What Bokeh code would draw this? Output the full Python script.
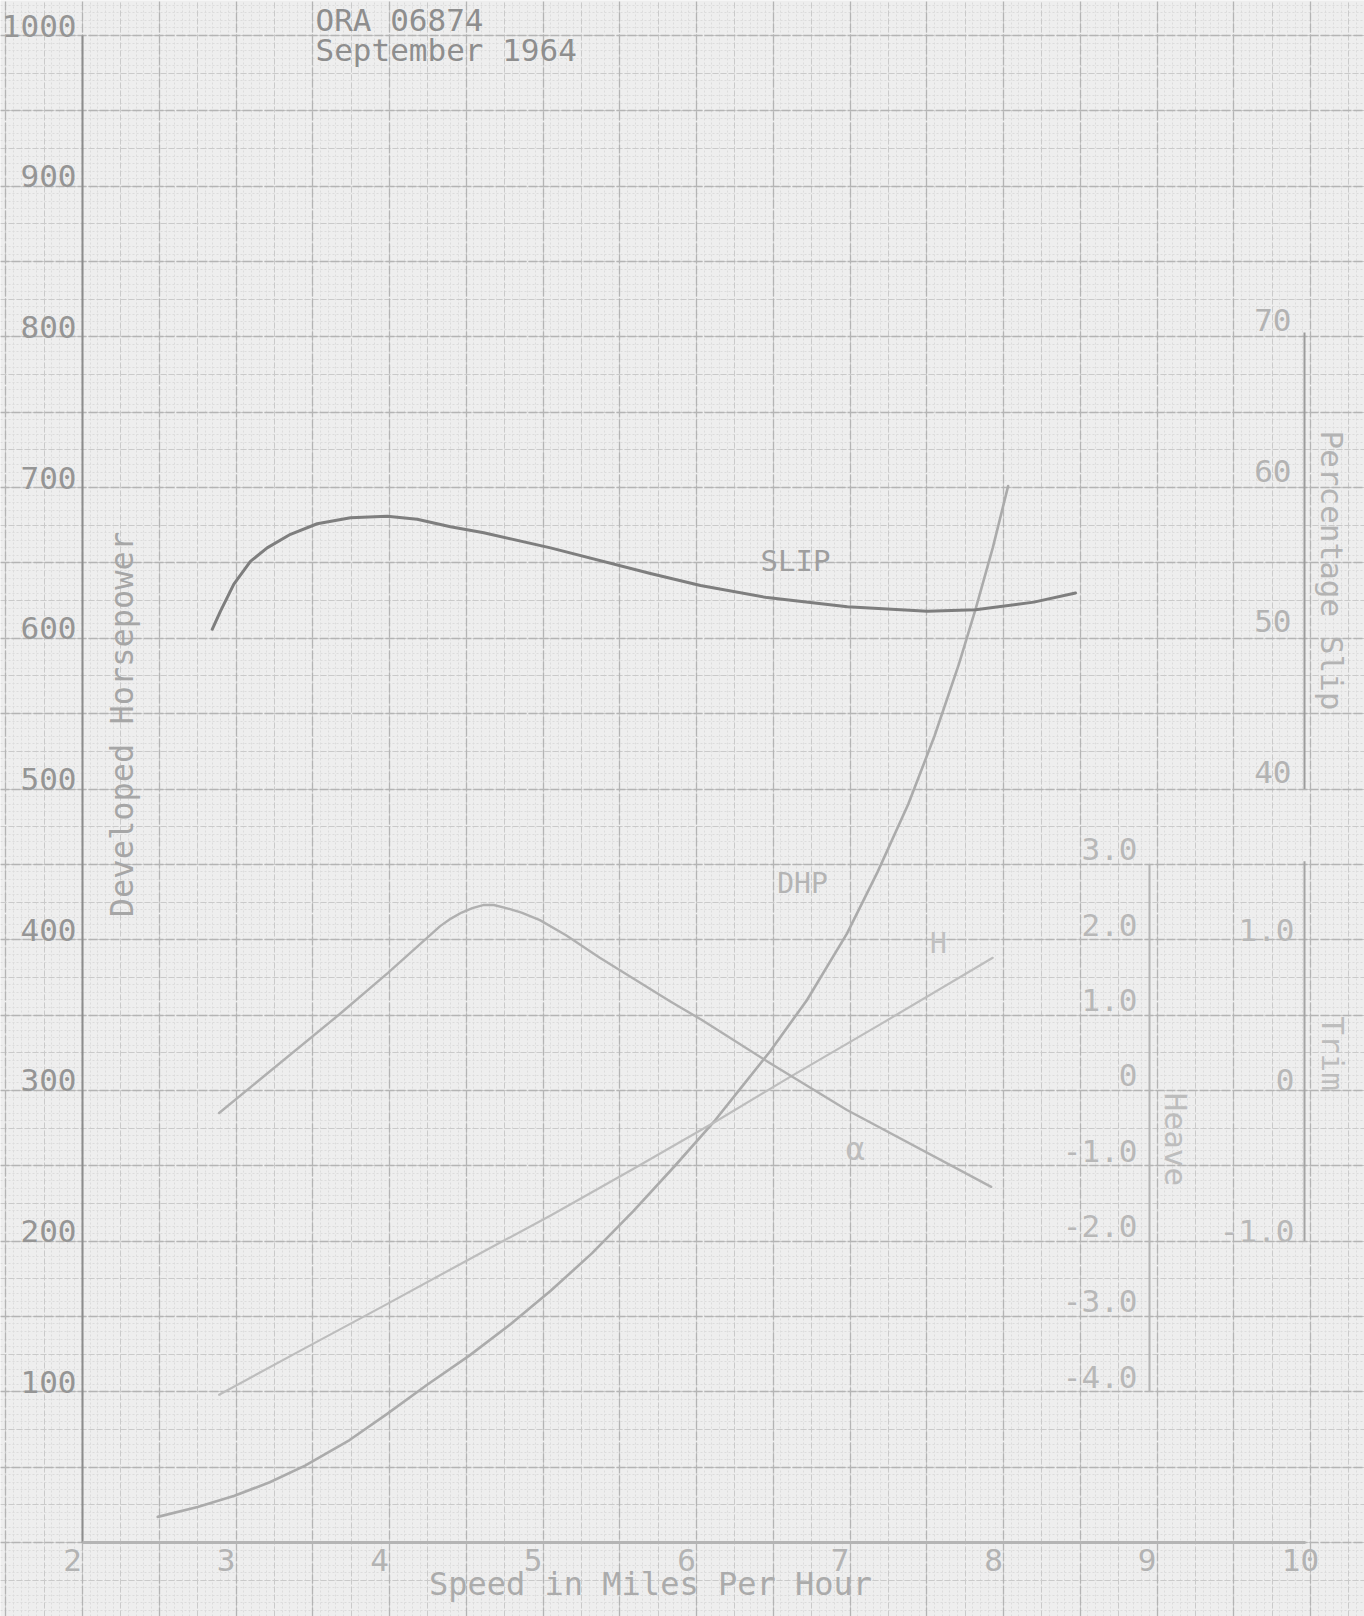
import numpy as np
from bokeh.plotting import figure
from bokeh.models import Range1d, Grid, FixedTicker
from bokeh.core.properties import value
from bokeh.embed import file_html
from bokeh.resources import INLINE

# ---------------- data ----------------
speed_dhp = [2.49, 2.75, 2.99, 3.22, 3.45, 3.74, 3.98, 4.25, 4.52, 4.79, 5.05, 5.32, 5.59, 5.86,
             6.12, 6.30, 6.48, 6.72, 6.98, 7.18, 7.38, 7.55, 7.71, 7.82, 7.93, 8.03]
dhp = [17, 23.5, 31, 40, 51, 68, 85, 105, 124, 145, 167, 192, 220, 250,
       280, 303, 326, 360, 404, 445, 490, 535, 583, 620, 660, 701]

speed_slip = [2.845, 2.899, 2.986, 3.094, 3.203, 3.355, 3.529, 3.746, 3.985, 4.180,
              4.397, 4.614, 5.049, 5.700, 6.026, 6.460, 6.982, 7.503, 7.818, 8.198, 8.469]
slip = [50.6, 51.8, 53.6, 55.1, 56.0, 56.9, 57.6, 58.0, 58.1, 57.9,
        57.4, 57.0, 56.0, 54.3, 53.5, 52.7, 52.1, 51.8, 51.9, 52.4, 53.0]

speed_heave = [2.89, 3.45, 3.98, 4.52, 5.05, 5.59, 6.12, 6.61, 7.20, 7.93]
heave = [-4.04, -3.42, -2.84, -2.24, -1.66, -1.04, -0.42, 0.18, 0.88, 1.76]

speed_trim = [2.89, 3.68, 3.99, 4.33, 4.40, 4.47, 4.54, 4.61, 4.68, 4.76, 4.86, 4.98,
              5.15, 5.37, 5.83, 6.03, 6.48, 6.98, 7.92]
trim = [-0.15, 0.51, 0.78, 1.09, 1.14, 1.18, 1.21, 1.23, 1.23, 1.21, 1.18, 1.13,
        1.03, 0.88, 0.59, 0.47, 0.18, -0.13, -0.64]

speed_ticks = [2, 3, 4, 5, 6, 7, 8, 9, 10]
hp_ticks = [100, 200, 300, 400, 500, 600, 700, 800, 900, 1000]
slip_ticks = [40, 50, 60, 70]
trim_ticks = [-1.0, 0.0, 1.0]
heave_ticks = [-4.0, -3.0, -2.0, -1.0, 0.0, 1.0, 2.0, 3.0]

# ---------------- layout helpers (page pixel -> data) ----------------
W, H = 1364, 1616
def sp(X):   # page x pixel -> speed
    return 2 + (X - 82) / 153.5
def hpv(Y):  # page y pixel -> horsepower
    return (1542 - Y) / 1.507

x0, x1 = sp(0), sp(W)
y0, y1 = hpv(H), hpv(0)

def to_slip(h): return h / 10 - 10
def to_trim(h): return (h - 300) / 100
def to_heave(h): return (h - 300) / 50

PAPER = "#eeeeee"
FONT = value("DejaVu Sans Mono")

p = figure(width=W, height=H, output_backend="svg", toolbar_location=None,
           x_axis_location=None, y_axis_location=None, title=None,
           x_range=Range1d(x0, x1), y_range=Range1d(y0, y1), min_border=0)
p.outline_line_color = None
p.background_fill_color = PAPER
p.border_fill_color = PAPER
for g in p.grid:
    g.visible = False

p.extra_y_ranges = {
    "slip": Range1d(to_slip(y0), to_slip(y1)),
    "trim": Range1d(to_trim(y0), to_trim(y1)),
    "heave": Range1d(to_heave(y0), to_heave(y1)),
}

# ---------------- graph-paper grid ----------------
def grid(dim, ticks, color, width, dash):
    p.add_layout(Grid(dimension=dim, ticker=FixedTicker(ticks=[float(t) for t in ticks]),
                      grid_line_color=color, grid_line_width=width,
                      grid_line_dash=dash))

grid(0, np.round(np.arange(1.45, 10.45, 0.05), 3), "#dcdcdc", 1, "2 2")
grid(1, np.arange(-50, 1060, 5), "#dcdcdc", 1, "2 2")
grid(0, np.arange(1.5, 10.45, 0.25), "#cacaca", 1, "6 2")
grid(1, np.arange(-50, 1060, 25), "#cacaca", 1, "6 2")
grid(0, np.arange(1.5, 10.45, 0.5), "#b4b4b4", 1.3, "9 2")
grid(1, np.arange(-50, 1060, 50), "#b4b4b4", 1.3, "9 2")

# ---------------- axes lines ----------------
x_slip_axis = sp(1304)
x_heave_axis = sp(1149)
p.segment(x0=[2], y0=[0], x1=[2], y1=[hp_ticks[-1]],
          line_color="#8c8c8c", line_width=2)
p.segment(x0=[speed_ticks[0]], y0=[0], x1=[sp(1305)], y1=[0],
          line_color="#b4b4b4", line_width=3)
p.segment(x0=[x_slip_axis], y0=[slip_ticks[0]], x1=[x_slip_axis], y1=[70.3],
          y_range_name="slip", line_color="#9c9c9c", line_width=2)
p.segment(x0=[x_slip_axis], y0=[trim_ticks[0]], x1=[x_slip_axis], y1=[1.52],
          y_range_name="trim", line_color="#a4a4a4", line_width=2)
p.segment(x0=[x_heave_axis], y0=[heave_ticks[0]], x1=[x_heave_axis], y1=[heave_ticks[-1]],
          y_range_name="heave", line_color="#b4b4b4", line_width=2)

# ---------------- curves ----------------
p.line(speed_dhp, dhp, line_color="#ababab", line_width=2.6, line_cap="round", line_join="round")
p.line(speed_slip, slip, y_range_name="slip", line_color="#7e7e7e", line_width=3,
       line_cap="round", line_join="round")
p.line(speed_heave, heave, y_range_name="heave", line_color="#bdbdbd", line_width=2.2,
       line_cap="round", line_join="round")
p.line(speed_trim, trim, y_range_name="trim", line_color="#b0b0b0", line_width=2.4,
       line_cap="round", line_join="round")

# ---------------- tick labels ----------------
def fmt1(v):
    return "0" if v == 0 else f"{v:.1f}"

TS = "31px"
p.text(x=[2] * len(hp_ticks), y=hp_ticks, text=[str(v) for v in hp_ticks],
       text_font=FONT, text_font_size=TS, text_color="#959595",
       text_align="right", text_baseline="middle", x_offset=-6, y_offset=-10)
p.text(x=speed_ticks, y=[0] * len(speed_ticks), text=[str(v) for v in speed_ticks],
       text_font=FONT, text_font_size=TS, text_color="#b3b3b3",
       text_align="center", text_baseline="middle", x_offset=-10, y_offset=17)
p.text(x=[x_slip_axis] * len(slip_ticks), y=slip_ticks, text=[str(v) for v in slip_ticks],
       y_range_name="slip", text_font=FONT, text_font_size=TS, text_color="#b3b3b3",
       text_align="right", text_baseline="middle", x_offset=-13, y_offset=-17)
p.text(x=[x_slip_axis] * len(trim_ticks), y=trim_ticks, text=[fmt1(v) for v in trim_ticks],
       y_range_name="trim", text_font=FONT, text_font_size=TS, text_color="#b8b8b8",
       text_align="right", text_baseline="middle", x_offset=-10, y_offset=-10)
p.text(x=[x_heave_axis] * len(heave_ticks), y=heave_ticks, text=[fmt1(v) for v in heave_ticks],
       y_range_name="heave", text_font=FONT, text_font_size=TS, text_color="#b8b8b8",
       text_align="right", text_baseline="middle", x_offset=-12, y_offset=-15)

# ---------------- titles and labels ----------------
def label(txt, X, Y, size="31px", color="#a8a8a8", angle=0.0, align="center"):
    p.text(x=[sp(X)], y=[hpv(Y)], text=[txt], angle=angle, text_font=FONT,
           text_font_size=size, text_color=color, text_align=align, text_baseline="middle")

label("ORA 06874", 315, 19, color="#8e8e8e", align="left")
label("September 1964", 315, 49, color="#8e8e8e", align="left")
label("Developed Horsepower", 121, 724, size="32px", color="#a6a6a6", angle=np.pi / 2)
label("Speed in Miles Per Hour", 650, 1583, size="32px", color="#ababab")
label("Percentage Slip", 1331, 570, color="#b3b3b3", angle=-np.pi / 2)
label("Trim", 1332, 1053, color="#bdbdbd", angle=-np.pi / 2)
label("Heave", 1175, 1139, color="#bdbdbd", angle=-np.pi / 2)
label("SLIP", 795, 560, size="29px", color="#9e9e9e")
label("DHP", 802, 883, size="28px", color="#b4b4b4")
label("H", 938, 943, size="28px", color="#c0c0c0")
label("\u03b1", 855, 1148, size="32px", color="#bdbdbd")

open("out.html", "w").write(file_html(p, INLINE))
